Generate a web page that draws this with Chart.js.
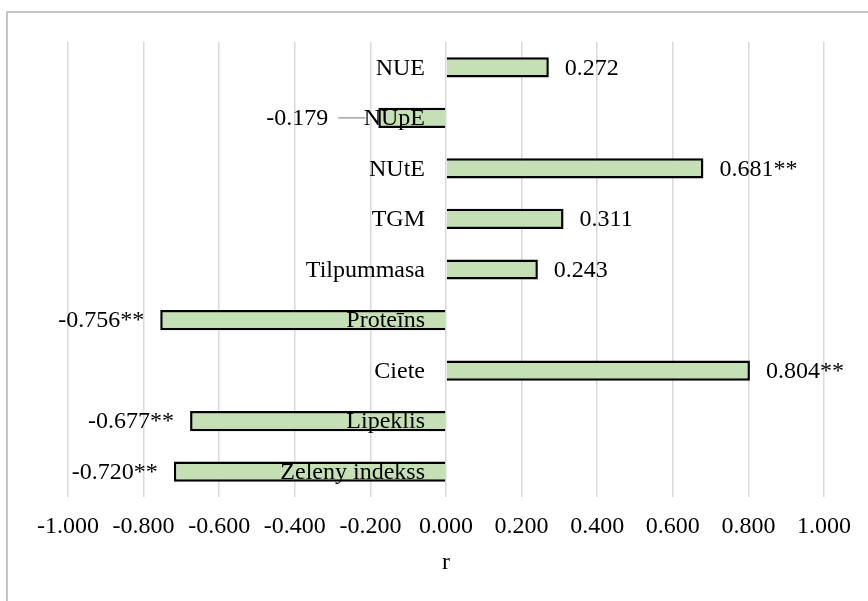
<!DOCTYPE html>
<html>
<head>
<meta charset="utf-8">
<script src="https://cdn.jsdelivr.net/npm/chart.js@4.4.0/dist/chart.umd.min.js"></script>
<style>
html, body { margin: 0; padding: 0; background: #fff; overflow: hidden; }
#frame { position: absolute; left: 6px; top: 11px; width: 900px; height: 640px; border: 2px solid #c6c6c6; box-sizing: border-box; }
#chart { position: absolute; left: 0; top: 0; }
</style>
</head>
<body>
<div id="frame"></div>
<canvas id="chart" width="868" height="601"></canvas>
<script>
// data
const categories = ['NUE', 'NUpE', 'NUtE', 'TGM', 'Tilpummasa', 'Proteīns', 'Ciete', 'Lipeklis', 'Zeleny indekss'];
const values = [0.272, -0.179, 0.681, 0.311, 0.243, -0.756, 0.804, -0.677, -0.720];
const stars = ['', '', '**', '', '', '**', '**', '**', '**'];
const xTickLabels = ['-1.000', '-0.800', '-0.600', '-0.400', '-0.200', '0.000', '0.200', '0.400', '0.600', '0.800', '1.000'];
const axisTitle = 'r';

const FONT = '"Liberation Serif", "Times New Roman", serif';
// NUpE label was pushed out with a leader line
const leaderShift = { 1: 34 };

const labelPlugin = {
    id: 'barLabels',
    afterDatasetsDraw(chart) {
        const ctx = chart.ctx;
        const zero = chart.scales.x.getPixelForValue(0);
        ctx.save();
        ctx.font = '24px ' + FONT;
        ctx.fillStyle = '#000';
        ctx.textBaseline = 'middle';
        chart.getDatasetMeta(0).data.forEach((bar, i) => {
            const y = bar.y + 1;
            // category name sits next to the zero line
            ctx.textAlign = 'right';
            ctx.fillText(categories[i], zero - 21, y);

            const txt = values[i].toFixed(3) + stars[i];
            if (values[i] >= 0) {
                ctx.textAlign = 'left';
                ctx.fillText(txt, bar.x + 16, y);
            } else {
                const shift = leaderShift[i] || 0;
                ctx.textAlign = 'right';
                ctx.fillText(txt, bar.x - 16 - shift, y);
                if (shift) {
                    ctx.strokeStyle = '#a6a6a6';
                    ctx.lineWidth = 1.5;
                    ctx.beginPath();
                    ctx.moveTo(bar.x - 16 - shift + 10, bar.y);
                    ctx.lineTo(bar.x - 13, bar.y);
                    ctx.stroke();
                }
            }
        });
        ctx.restore();
    }
};

new Chart(document.getElementById('chart').getContext('2d'), {
    type: 'bar',
    data: {
        labels: categories,
        datasets: [{
            data: values,
            backgroundColor: '#c5e0b4',
            borderColor: '#000000',
            borderWidth: 2.5,
            categoryPercentage: 1,
            barPercentage: 0.4
        }]
    },
    options: {
        indexAxis: 'y',
        responsive: false,
        animation: false,
        layout: { padding: { left: 68, right: 44, top: 42, bottom: 0 } },
        plugins: {
            legend: { display: false },
            tooltip: { enabled: false }
        },
        scales: {
            x: {
                min: -1,
                max: 1,
                ticks: {
                    stepSize: 0.2,
                    padding: 15,
                    color: '#000',
                    font: { family: FONT, size: 24 },
                    callback: (v, i) => xTickLabels[i]
                },
                grid: { color: '#d9d9d9', lineWidth: 1.5, drawTicks: false },
                border: { display: false },
                title: {
                    display: true,
                    text: axisTitle,
                    color: '#000',
                    font: { family: FONT, size: 24 },
                    padding: { top: 0, bottom: 24 }
                },
                afterFit: s => { s.height = 104; }
            },
            y: {
                display: false
            }
        }
    },
    plugins: [labelPlugin]
});
</script>
</body>
</html>
